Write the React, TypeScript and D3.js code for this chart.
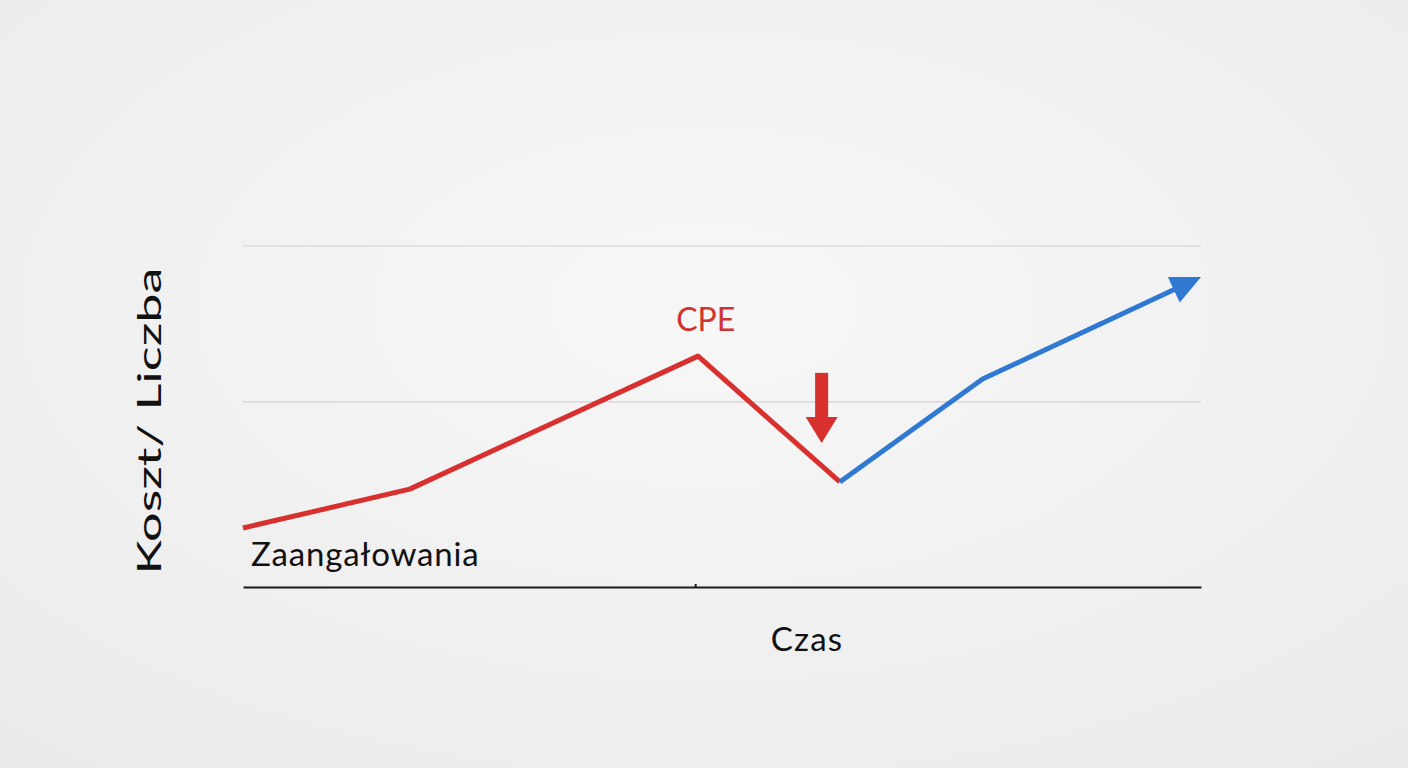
import { useEffect, useRef } from 'react';
import * as d3 from 'd3';

// Chart data (time on x, value on y, 0..100 scale)
const redTimes = [0, 1.74, 4.75, 6.23];
const redValues = [17.3, 28.7, 67.7, 30.8];
const blueTimes = [6.23, 7.72, 10];
const blueValues = [30.8, 61, 90.9];
const gridValues = [54.3, 100];
const xTicks = [4.72];
const dropArrow = { time: 6.04, from: 62.8, to: 42.2 };
const peakLabel = { text: 'CPE', time: 4.83, value: 75 };
const yTitle = 'Koszt/ Liczba';
const xTitle = 'Czas';
const seriesLabel = 'Zaangałowania';

export default function App() {
    const svgRef = useRef<SVGSVGElement>(null);

    useEffect(() => {
        if (!svgRef.current) return;
        const svg = d3.select(svgRef.current);
        svg.selectAll('*').remove();

        const width = 1408;
        const height = 768;
        const font = 'Lato, "Open Sans", sans-serif';
        const red = '#d8302e';
        const blue = '#2f79d2';

        const x = d3.scaleLinear().domain([0, 10]).range([243, 1201]);
        const y = d3.scaleLinear().domain([0, 100]).range([587, 246]);

        // Background
        const defs = svg.append('defs');
        const grad = defs.append('radialGradient')
            .attr('id', 'bg')
            .attr('cx', '50%').attr('cy', '40%').attr('r', '75%');
        grad.append('stop').attr('offset', '0%').attr('stop-color', '#f7f7f7');
        grad.append('stop').attr('offset', '100%').attr('stop-color', '#ebebeb');
        svg.append('rect').attr('width', width).attr('height', height).attr('fill', 'url(#bg)');

        // Grid lines
        svg.append('g').selectAll('line')
            .data(gridValues)
            .enter()
            .append('line')
            .attr('x1', x(0)).attr('x2', x(10))
            .attr('y1', d => y(d)).attr('y2', d => y(d))
            .attr('stroke', '#d2d2d2')
            .attr('stroke-width', 1.2);

        // X axis baseline
        const axis = svg.append('g').attr('transform', `translate(0,${y(0)})`);
        axis.call(d3.axisBottom(x).tickValues(xTicks).tickSize(-3).tickSizeOuter(0).tickFormat(() => ''))
            .call(g => g.select('.domain').attr('stroke', '#1a1a1a').attr('stroke-width', 2))
            .call(g => g.selectAll('.tick line').attr('stroke', '#1a1a1a').attr('stroke-width', 2));

        const line = d3.line<[number, number]>()
            .x(d => x(d[0]))
            .y(d => y(d[1]));

        // Red series
        const redPts = redTimes.map((t, i) => [t, redValues[i]] as [number, number]);
        svg.append('path')
            .attr('d', line(redPts))
            .attr('fill', 'none')
            .attr('stroke', red)
            .attr('stroke-width', 5)
            .attr('stroke-linejoin', 'round');

        // Blue series with arrowhead
        const bluePts = blueTimes.map((t, i) => [t, blueValues[i]] as [number, number]);
        const n = bluePts.length;
        const tx = x(bluePts[n - 1][0]), ty = y(bluePts[n - 1][1]);
        const px = x(bluePts[n - 2][0]), py = y(bluePts[n - 2][1]);
        const len = Math.hypot(tx - px, ty - py);
        const ux = (tx - px) / len, uy = (ty - py) / len;
        const headLen = 30, headHalf = 14;
        const bx = tx - ux * headLen, by = ty - uy * headLen;
        const shortened = bluePts.map(p => [x(p[0]), y(p[1])] as [number, number]);
        shortened[n - 1] = [bx + ux * 4, by + uy * 4];
        svg.append('path')
            .attr('d', d3.line()(shortened))
            .attr('fill', 'none')
            .attr('stroke', blue)
            .attr('stroke-width', 5)
            .attr('stroke-linejoin', 'round');
        svg.append('polygon')
            .attr('points', [
                [tx, ty],
                [bx - uy * headHalf, by + ux * headHalf],
                [bx + uy * headHalf, by - ux * headHalf]
            ].map(p => p.join(',')).join(' '))
            .attr('fill', blue);

        // Red down arrow
        const ax = x(dropArrow.time);
        const ay0 = y(dropArrow.from), ay1 = y(dropArrow.to);
        const dHead = 26, shaftHalf = 6.5, dHalf = 16;
        svg.append('rect')
            .attr('x', ax - shaftHalf).attr('y', ay0)
            .attr('width', shaftHalf * 2).attr('height', ay1 - ay0 - dHead + 2)
            .attr('fill', red);
        svg.append('polygon')
            .attr('points', [
                [ax - dHalf, ay1 - dHead],
                [ax + dHalf, ay1 - dHead],
                [ax, ay1]
            ].map(p => p.join(',')).join(' '))
            .attr('fill', red);

        // Labels
        svg.append('text')
            .attr('x', x(peakLabel.time)).attr('y', y(peakLabel.value))
            .attr('text-anchor', 'middle')
            .attr('font-family', font).attr('font-size', 32)
            .attr('fill', '#cf3431')
            .text(peakLabel.text);

        svg.append('text')
            .attr('x', 251).attr('y', 566)
            .attr('font-family', font).attr('font-size', 33)
            .attr('letter-spacing', 0.8)
            .attr('fill', '#111')
            .text(seriesLabel);

        svg.append('text')
            .attr('x', 807).attr('y', 651)
            .attr('text-anchor', 'middle')
            .attr('font-family', font).attr('font-size', 33)
            .attr('letter-spacing', 1.2)
            .attr('fill', '#111')
            .text(xTitle);

        svg.append('text')
            .attr('transform', 'translate(161,421) rotate(-90)')
            .attr('text-anchor', 'middle')
            .attr('font-family', font).attr('font-size', 33)
            .attr('textLength', 307)
            .attr('lengthAdjust', 'spacingAndGlyphs')
            .attr('fill', '#111')
            .text(yTitle);
    }, []);

    return (
        <svg
            ref={svgRef}
            width={1408}
            height={768}
            style={{ position: 'absolute', left: 0, top: 0, display: 'block' }}
        />
    );
}
